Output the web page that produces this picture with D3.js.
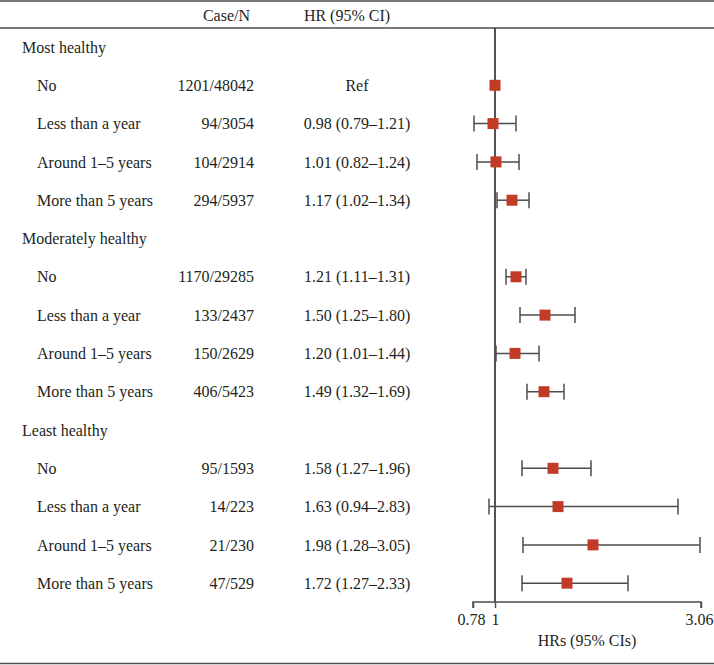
<!DOCTYPE html>
<html><head><meta charset="utf-8">
<script src="https://cdn.jsdelivr.net/npm/d3@7"></script>
<style>body{margin:0;background:#fff}svg{display:block}</style>
</head><body>
<script>
const groups = ["Most healthy", "Moderately healthy", "Least healthy"];
const subLabels = ["No", "Less than a year", "Around 1–5 years", "More than 5 years"];
const caseN = ["1201/48042","94/3054","104/2914","294/5937","1170/29285","133/2437","150/2629","406/5423","95/1593","14/223","21/230","47/529"];
const hrText = ["Ref","0.98 (0.79–1.21)","1.01 (0.82–1.24)","1.17 (1.02–1.34)","1.21 (1.11–1.31)","1.50 (1.25–1.80)","1.20 (1.01–1.44)","1.49 (1.32–1.69)","1.58 (1.27–1.96)","1.63 (0.94–2.83)","1.98 (1.28–3.05)","1.72 (1.27–2.33)"];
const hr = [1.00,0.98,1.01,1.17,1.21,1.50,1.20,1.49,1.58,1.63,1.98,1.72];
const lo = [null,0.79,0.82,1.02,1.11,1.25,1.01,1.32,1.27,0.94,1.28,1.27];
const hi = [null,1.21,1.24,1.34,1.31,1.80,1.44,1.69,1.96,2.83,3.05,2.33];
const tickValues = [0.78, 1, 3.06];
const tickLabels = ["0.78", "1", "3.06"];
const axisTitle = "HRs (95% CIs)";
const headers = ["Case/N", "HR (95% CI)"];

const W = 714, H = 665;
const font = "'Liberation Serif', 'Times New Roman', serif";
const textColor = "#231f20";
const lineColor = "#4d4d4d";
const markColor = "#c23b27";

const svg = d3.select("body").append("svg").attr("width", W).attr("height", H)
  .style("font-family", font).style("font-size", "16px");

const rows = [];
groups.forEach((g, gi) => {
  rows.push({type: "group", label: g});
  subLabels.forEach((s, si) => {
    rows.push({type: "item", label: s, k: gi * 4 + si});
  });
});

const y = d3.scalePoint().domain(d3.range(rows.length)).range([47, 583.2]);
const x = d3.scaleLinear().domain([0.78, 3.06]).range([473, 701]);
const axisY = 602;

// table rules
[1, 28, 663.5].forEach(v => {
  svg.append("line").attr("x1", 0).attr("x2", W).attr("y1", v).attr("y2", v).attr("stroke", lineColor).attr("stroke-width", 1.5);
});

// headers
svg.append("text").attr("x", 250).attr("y", 15).attr("dy", "0.35em").attr("text-anchor", "end").attr("fill", textColor).text(headers[0]);
svg.append("text").attr("x", 347).attr("y", 15).attr("dy", "0.35em").attr("text-anchor", "middle").attr("fill", textColor).text(headers[1]);

// row texts
const rg = svg.append("g").attr("fill", textColor);
rows.forEach((r, i) => {
  const yy = y(i);
  if (r.type === "group") {
    rg.append("text").attr("x", 22).attr("y", yy).attr("dy", "0.35em").text(r.label);
  } else {
    rg.append("text").attr("x", 37).attr("y", yy).attr("dy", "0.35em").text(r.label);
    rg.append("text").attr("x", 254).attr("y", yy).attr("dy", "0.35em").attr("text-anchor", "end").text(caseN[r.k]);
    rg.append("text").attr("x", 357).attr("y", yy).attr("dy", "0.35em").attr("text-anchor", "middle").text(hrText[r.k]);
  }
});

// reference line
svg.append("line").attr("x1", x(1)).attr("x2", x(1)).attr("y1", 28).attr("y2", axisY)
  .attr("stroke", "#1a1a1a").attr("stroke-width", 1.5);

// axis
const axis = d3.axisBottom(x).tickValues(tickValues).tickFormat((d, i) => tickLabels[i]).tickSize(6).tickPadding(6);
const ag = svg.append("g").attr("transform", `translate(0,${axisY})`).call(axis);
ag.select(".domain").attr("stroke", lineColor).attr("stroke-width", 1.5).attr("d", `M${x(0.78)},6V0H${x(3.06)}V6`);
ag.selectAll(".tick line").attr("stroke", lineColor).attr("stroke-width", 1.5);
ag.selectAll(".tick text").attr("fill", textColor).style("font-family", font).style("font-size", "16px")
  .attr("text-anchor", (d, i) => i === tickValues.length - 1 ? "end" : "middle")
  .attr("dx", (d, i) => i === tickValues.length - 1 ? 12 : (i === 0 ? -2 : 0));
svg.append("text").attr("x", (x(0.78) + x(3.06)) / 2).attr("y", 640).attr("dy", "0.35em")
  .attr("text-anchor", "middle").attr("fill", textColor).text(axisTitle);

// CIs and markers
const pg = svg.append("g");
const cap = 8;
rows.forEach((r, i) => {
  if (r.type !== "item") return;
  const k = r.k, yy = y(i);
  if (lo[k] != null) {
    pg.append("line").attr("x1", x(lo[k])).attr("x2", x(hi[k])).attr("y1", yy).attr("y2", yy).attr("stroke", lineColor).attr("stroke-width", 1.5);
    [lo[k], hi[k]].forEach(v => {
      pg.append("line").attr("x1", x(v)).attr("x2", x(v)).attr("y1", yy - cap).attr("y2", yy + cap).attr("stroke", lineColor).attr("stroke-width", 1.5);
    });
  }
  pg.append("rect").attr("x", x(hr[k]) - 5.5).attr("y", yy - 5.5).attr("width", 11).attr("height", 11).attr("fill", markColor);
});
</script>
</body></html>
